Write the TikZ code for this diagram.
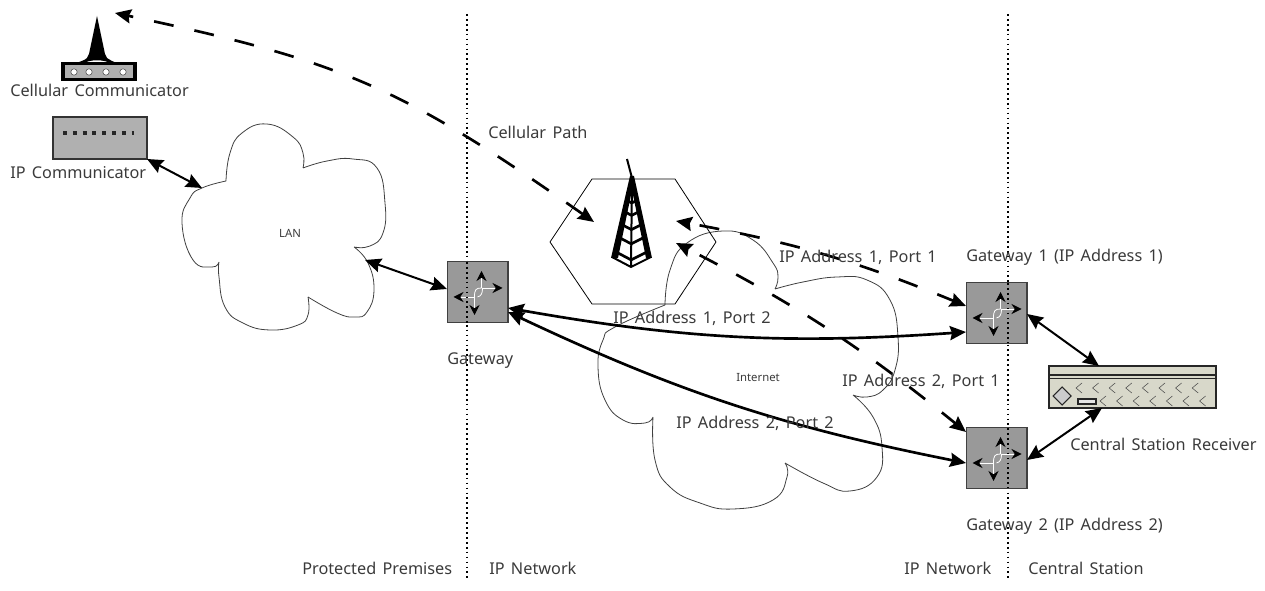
\documentclass[tikz,border=0pt]{standalone}
\usepackage{fontspec}
\setmainfont[WordSpace=1.5]{Noto Sans}
\usetikzlibrary{arrows.meta,calc}
\definecolor{inktext}{HTML}{3A3A3A}
\definecolor{boxgrey}{HTML}{999999}
\definecolor{commgrey}{HTML}{B0B0B0}
\definecolor{rxfill}{HTML}{D8D8CA}

% arrows of the routing box, around its centre
\newcommand{\gatewayicon}[1]{
  \begin{scope}[shift={(#1)}]
    \draw[iconline] (-3,5) -- (-3,23);
    \draw[iconline] (-3,5) -- (-24,5);
    \draw[iconline] (4,-4) -- (4,-21);
    \draw[iconline] (4,-4) -- (25,-4);
    \draw[white,semithick] (-3,5) .. controls (-3,-2) and (-2,-4) .. (4,-4);
    \draw[white,semithick] (0,5) .. controls (4,4) and (5,1) .. (5,-4);
  \end{scope}
}

\begin{document}
\begin{tikzpicture}[x=0.75pt,y=-0.75pt,>={Stealth[length=12pt,width=10.5pt,inset=1.5pt]},
                    font=\fontsize{12.2pt}{14pt}\selectfont,text=inktext]
  \tikzstyle{iconline}=[white,semithick,-{Stealth[black,length=7.5pt,width=7.5pt]}]
  \tikzstyle{routerbox}=[rectangle,draw=black!75,fill=boxgrey,line width=1pt,minimum size=45.5pt,inner sep=0pt]
  \tikzstyle{textlabel}=[anchor=west,inner sep=0pt]
  \tikzstyle{small}=[inner sep=0pt,font=\fontsize{8.5pt}{10pt}\selectfont]
  \tikzstyle{cloud}=[draw=black!75,line width=0.6pt]
  \tikzstyle{zone}=[line width=1.2pt,dash pattern=on 1.3pt off 2.4pt]
  \tikzstyle{link}=[<->,line width=1.5pt,black]
  \tikzstyle{wire}=[<->,line width=2pt,black]
  \tikzstyle{path}=[<->,line width=2pt,black,dash pattern=on 15pt off 16pt]

  \useasboundingbox (0,0) rectangle (1265,591);

  % LAN
  \draw[cloud] plot[smooth,tension=0.8] coordinates {(226,181) (230,153) (242,133) (267,124) (293,137) (303,153) (303,168)}
    plot[smooth,tension=0.8] coordinates {(303,168) (327,161) (353,159) (377,168) (385,203) (383,233) (370,246) (354,247)}
    plot[smooth,tension=0.8] coordinates {(354,247) (368,263) (374,290) (367,312) (355,317) (337,313) (308,297)}
    plot[smooth,tension=0.8] coordinates {(308,297) (308,315) (298,325) (270,330) (243,323) (225,307) (219,277) (219,262)}
    plot[smooth,tension=0.8] coordinates {(219,262) (212,267) (193,260) (182,223) (190,198) (202,188) (226,181)};

  % Internet
  \draw[cloud] plot[smooth,tension=0.8] coordinates {(665,305) (670,270) (687,243) (723,231) (753,240) (773,263) (778,277) (775,289)}
    plot[smooth,tension=0.8] coordinates {(775,289) (803,282) (837,277) (867,280) (890,300) (898,337) (895,370) (883,390) (867,397) (853,395)}
    plot[smooth,tension=0.8] coordinates {(853,395) (873,417) (882,447) (877,477) (850,491) (823,483) (785,463)}
    plot[smooth,tension=0.8] coordinates {(785,463) (787,477) (773,500) (733,509) (700,503) (670,487) (655,460) (653,417)}
    plot[smooth,tension=0.8] coordinates {(653,417) (645,423) (623,420) (605,400) (598,367) (603,340) (615,327) (665,305)};

  % hexagon and tower
  \draw[semithick,black] (592,179) -- (675,179) -- (716,242) -- (675,304) -- (592,304) -- (550,242) -- cycle;
  \draw[line width=1.5pt,black] (627,159) -- (632,178);
  \fill[black] (630,176) -- (634,176) -- (652,258) -- (646,258) -- (632,190) -- (618,258) -- (611,258) -- cycle;
  \draw[line width=1.5pt,black] (632,180) -- (631,267) (612,257) -- (631,267) -- (651,257);
  \foreach \t in {0.28,0.42,0.58,0.74,0.92}
    \draw[line width=2pt,black] ({632-20*\t},{178+79*\t}) -- ({632-\t},{178+89*\t}) -- ({632+19*\t},{178+79*\t});

  % dotted borders
  \draw[zone] (467,14) -- (467,578);
  \draw[zone] (1008,14) -- (1008,578);

  % boxes
  \node[routerbox] (gateway) at (477.5,292) {};
  \node[routerbox] (gatewayA) at (996.5,313) {};
  \node[routerbox] (gatewayB) at (996.5,458) {};
  \gatewayicon{gateway}
  \gatewayicon{gatewayA}
  \gatewayicon{gatewayB}
  \draw[zone] (467,262) -- (467,323);
  \draw[zone] (1008,283) -- (1008,343);
  \draw[zone] (1008,428) -- (1008,488);

  \node[rectangle,draw=black!80,fill=commgrey,line width=0.8pt,minimum width=70.5pt,minimum height=31.5pt,inner sep=0pt] (ipcomm) at (100,138) {};
  \draw[line width=3pt,black!85,dash pattern=on 3pt off 4.35pt] (63,133) -- (134,133);

  \node[rectangle,draw=black,fill=commgrey,line width=2.4pt,minimum width=54pt,minimum height=12.5pt,inner sep=0pt] (cellcomm) at (99,71.5) {};
  \fill[black] (97,16) -- (89,54) -- (87,58) .. controls (84,61) and (80,61) .. (75,64) -- (82,64) .. controls (90,59) and (104,59) .. (112,64) -- (119,64) .. controls (113,61) and (110,61) .. (107,58) -- (105,54) -- cycle;
  \foreach \x in {74,89,106,123}
    \draw[fill=white,draw=black!70,thin] (\x,72) circle (2.4pt);

  \node[rectangle,draw=black!85,fill=rxfill,line width=1.2pt,minimum width=125pt,minimum height=31.5pt,inner sep=0pt] (receiver) at (1132.5,387) {};
  \draw[black!85,line width=1pt] (1049,375) -- (1216,375) (1049,378.5) -- (1216,378.5);
  \draw[black!85,thick,fill=black!20] (1062,387) -- (1071,396) -- (1062,405) -- (1053,396) -- cycle;
  \draw[black!85,thick,fill=black!10] (1078,399) rectangle (1096,404);
  \foreach \x in {0,...,7}
    \draw[black!70] ({1082+16.6*\x},383) -- ({1076+16.6*\x},388) -- ({1082+16.6*\x},393);
  \foreach \x in {0,...,6}
    \draw[black!70] ({1106+16.6*\x},396) -- ({1100+16.6*\x},401) -- ({1106+16.6*\x},406);

  % ends of the connectors
  \coordinate (lanA) at (202,188);
  \coordinate (lanB) at (365,260);
  \coordinate (ipport) at (147,159);
  \coordinate (gwwest) at (447,289);
  \coordinate (gwportA) at (508,308);
  \coordinate (gwportB) at (508,312);
  \coordinate (portAtop) at (966,306);
  \coordinate (portAlow) at (966,332);
  \coordinate (portBtop) at (966,432);
  \coordinate (portBlow) at (966,463);
  \coordinate (rxtop) at (1099,366);
  \coordinate (rxlow) at (1102,408);
  \coordinate (eastA) at (1027,314);
  \coordinate (eastB) at (1027,460);
  \coordinate (celltip) at (115,13);
  \coordinate (towerW) at (594,222);
  \coordinate (towerA) at (676,221);
  \coordinate (towerB) at (676,243);

  \draw[link] (ipport) -- (lanA);
  \draw[link] (lanB) -- (gwwest);
  \draw[link] (eastA) -- (rxtop);
  \draw[link] (eastB) -- (rxlow);

  \path (gwportA) edge[wire,out=-10,in=184] (portAlow)
        (gwportB) edge[wire,bend right=7] (portBlow)
        (celltip) edge[path,dash phase=11pt,out=-12,in=145,looseness=1.15] (towerW)
        (towerA) edge[path,dash phase=23pt,bend left=6] (portAtop)
        (towerB) edge[path,dash phase=21pt,bend left=6] (portBtop);

  % labels
  \node[textlabel] (cellcommtext) at (10,90) {Cellular Communicator};
  \node[textlabel] (ipcommtext) at (10,173) {IP Communicator};
  \node[textlabel] (celltext) at (488,132) {Cellular Path};
  \node[small] (lantext) at (290,233) {LAN};
  \node[textlabel] (gwtext) at (447,361) {Gateway};
  \node[textlabel] (a1p1) at (779,257) {IP Address 1, Port 1};
  \node[textlabel] (gwAtext) at (966,257) {Gateway 1 (IP Address 1)};
  \node[textlabel] (a1p2) at (613,318) {IP Address 1, Port 2};
  \node[small] (nettext) at (758,378) {Internet};
  \node[textlabel] (a2p1) at (842,381) {IP Address 2, Port 1};
  \node[textlabel] (a2p2) at (676,423) {IP Address 2, Port 2};
  \node[textlabel] (rxtext) at (1070,444) {Central Station Receiver};
  \node[textlabel] (gwBtext) at (966,526) {Gateway 2 (IP Address 2)};
  \node[textlabel] (premtext) at (302,568) {Protected Premises};
  \node[textlabel] (ipnetA) at (489,568) {IP Network};
  \node[textlabel] (ipnetB) at (904,568) {IP Network};
  \node[textlabel] (cstext) at (1028,568) {Central Station};
\end{tikzpicture}
\end{document}
